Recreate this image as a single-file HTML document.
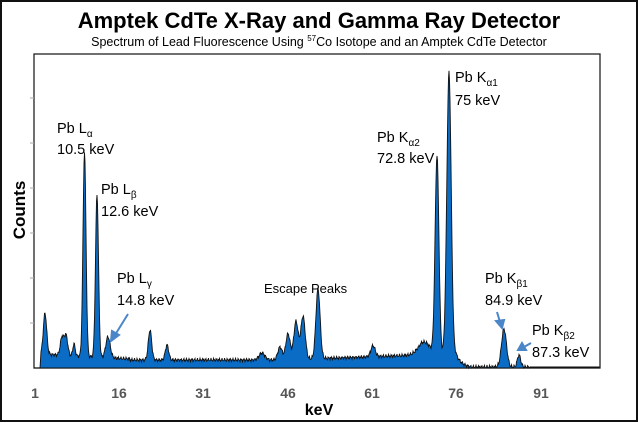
<!DOCTYPE html>
<html><head><meta charset="utf-8"><style>
html,body{margin:0;padding:0;background:#fff}
body{width:638px;height:422px;overflow:hidden}
svg text{font-family:"Liberation Sans",sans-serif}
</style></head><body>
<svg id="s" width="638" height="422" viewBox="0 0 638 422" xmlns="http://www.w3.org/2000/svg">
<rect x="1" y="1" width="636" height="420" fill="#fff" stroke="#111" stroke-width="2"/>
<text x="319" y="28" text-anchor="middle" font-size="22" font-weight="bold" fill="#000">Amptek CdTe X-Ray and Gamma Ray Detector</text>
<text x="319" y="46" text-anchor="middle" font-size="12.5" fill="#000">Spectrum of Lead Fluorescence Using <tspan font-size="8" dy="-5">57</tspan><tspan dy="5">Co Isotope and an Amptek CdTe Detector</tspan></text>
<rect x="34" y="54" width="566" height="314" fill="#fff" stroke="#222" stroke-width="1.3"/>
<g stroke="#aaa" stroke-width="1">
<line x1="30" y1="98" x2="34" y2="98"/><line x1="30" y1="143" x2="34" y2="143"/><line x1="30" y1="188" x2="34" y2="188"/><line x1="30" y1="233" x2="34" y2="233"/><line x1="30" y1="278" x2="34" y2="278"/><line x1="30" y1="323" x2="34" y2="323"/>
</g>
<path id="spec" fill="#0a6cc4" stroke="#111" stroke-width="0.9" d=""/>
<g font-size="14" fill="#555" font-weight="bold" text-anchor="middle">
<text x="35" y="398">1</text><text x="119" y="398">16</text><text x="203" y="398">31</text><text x="288" y="398">46</text><text x="372" y="398">61</text><text x="456" y="398">76</text><text x="541" y="398">91</text>
</g>
<text x="319" y="415" text-anchor="middle" font-size="16" font-weight="bold">keV</text>
<text transform="translate(25,210) rotate(-90)" text-anchor="middle" font-size="17" font-weight="bold">Counts</text>
<g font-size="14.5" fill="#000">
<text x="57" y="133">Pb L<tspan font-size="10" dy="4">α</tspan></text><text x="57" y="154">10.5 keV</text>
<text x="101" y="194">Pb L<tspan font-size="10" dy="4">β</tspan></text><text x="101" y="216">12.6 keV</text>
<text x="117" y="283">Pb L<tspan font-size="10" dy="4">γ</tspan></text><text x="117" y="305">14.8 keV</text>
<text x="377" y="142">Pb K<tspan font-size="10" dy="4">α2</tspan></text><text x="377" y="163">72.8 keV</text>
<text x="455" y="82">Pb K<tspan font-size="10" dy="4">α1</tspan></text><text x="455" y="105">75 keV</text>
<text x="485" y="283">Pb K<tspan font-size="10" dy="4">β1</tspan></text><text x="485" y="305">84.9 keV</text>
<text x="532" y="335">Pb K<tspan font-size="10" dy="4">β2</tspan></text><text x="532" y="357">87.3 keV</text>
<text x="264" y="293" font-size="13">Escape Peaks</text>
</g>
<g stroke="#4a86c8" stroke-width="2" fill="#4a86c8">
<line x1="128" y1="314" x2="115" y2="335"/><polygon points="111,341 112,331 119,335"/>
<line x1="497" y1="312" x2="500" y2="322"/><polygon points="502,328 496,321 504,320"/>
<line x1="531" y1="343" x2="524" y2="347"/><polygon points="518,350 522,343 526,350"/>
</g>
</svg>
<script>
var P=[[45,41,1.7],[62,18,1.7],[66,20,1.7],[74,12,1.2],[84.5,205,1.5],[97,163,1.5],[108,21,2.2],[150,30,1.7],[167,15,1.7],[262,7,3],[280,13,2.2],[288,26,2.2],[296,38,2.2],[303,43,2.2],[318,70,2.1],[373,11,2.2],[424,12,6],[437,198,1.9],[449,282,2.2],[504,38,2.5],[519,12,1.7]];
function bg(x){if(x<41)return 0;if(x<130)return 14-(x-41)*5/89;if(x<280)return 8;if(x<420)return 8+(x-280)*5/140;if(x<456)return 14;return Math.max(1,14*Math.exp(-(x-456)/6));}
var d="M34,368 L40,368";
for(var x=41;x<=599;x+=0.5){var y=bg(x);if(x>41&&x<530)y+=1.2*Math.sin(x*2.3)+0.8*Math.sin(x*5.1);
for(var i=0;i<P.length;i++){var p=P[i];var t=(x-p[0])/p[2];y+=p[1]*Math.exp(-0.5*t*t);}
if(y<0)y=0;d+=" L"+x+","+(368-y).toFixed(1);}
d+=" L599,368 Z";document.getElementById("spec").setAttribute("d",d);
</script>
</body></html>
